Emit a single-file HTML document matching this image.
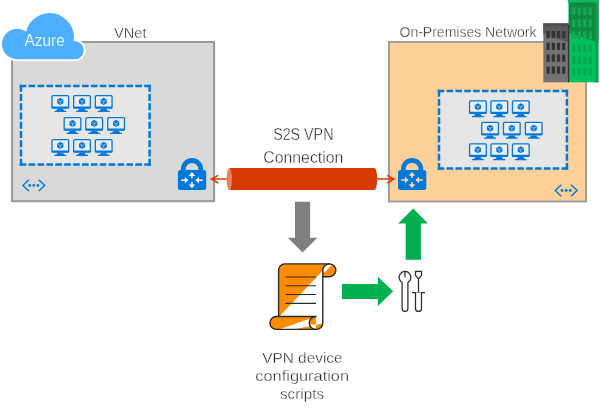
<!DOCTYPE html>
<html><head><meta charset="utf-8"><title>S2S VPN Connection</title>
<style>
html,body{margin:0;padding:0;background:#fff;}
body{width:600px;height:414px;overflow:hidden;}
svg{display:block;}
text{filter:url(#ga);font-family:"Liberation Sans",sans-serif;fill:#262626;stroke:#fff;stroke-width:0.36px;}
</style></head><body>
<svg width="600" height="414" viewBox="0 0 600 414">
<defs>
  <filter id="ga" x="-5%" y="-20%" width="110%" height="140%"><feOffset dx="0" dy="0"/></filter>
  <g id="mon">
    <rect x="0.35" y="0.65" width="16.7" height="12.5" rx="1" fill="#ececec" stroke="#0078d7" stroke-width="1.3"/>
    <rect x="0.35" y="11.5" width="16.7" height="1.7" fill="#0078d7"/>
    <path d="M6.3 13.7 L11.1 13.7 L12.9 15.8 L14.6 15.8 L14.6 17 L2.8 17 L2.8 15.8 L4.5 15.8 Z" fill="#0078d7"/>
    <path d="M8.70 2.85 L11.82 4.65 L11.82 8.25 L8.70 10.05 L5.58 8.25 L5.58 4.65 Z" fill="#0078d7"/>
    <path d="M8.7 9.24 L8.7 6.55 L6.44 5.25 M8.7 6.55 L10.96 5.25" stroke="#d6e8f8" stroke-width="0.65" fill="none"/>
  </g>
  <g id="mons">
    <use href="#mon" x="0" y="0"/><use href="#mon" x="21.7" y="0"/><use href="#mon" x="43.4" y="0"/>
    <use href="#mon" x="12.2" y="22"/><use href="#mon" x="33.9" y="22"/><use href="#mon" x="55.8" y="22"/>
    <use href="#mon" x="0" y="44"/><use href="#mon" x="21.7" y="44"/><use href="#mon" x="43.4" y="44"/>
  </g>
  <g id="mons2">
    <use href="#mon" x="0" y="0"/><use href="#mon" x="21.4" y="0"/><use href="#mon" x="42.9" y="0"/>
    <use href="#mon" x="12.2" y="21.5"/><use href="#mon" x="33.9" y="21.5"/><use href="#mon" x="55.8" y="21.5"/>
    <use href="#mon" x="0" y="43"/><use href="#mon" x="21.4" y="43"/><use href="#mon" x="42.9" y="43"/>
  </g>
  <g id="peer" fill="none" stroke="#0078d7" stroke-width="1.4">
    <path d="M6.4 -5.7 L0.4 0 L6.4 5.7"/><path d="M16.2 -5.7 L22.2 0 L16.2 5.7"/>
    <circle cx="7.2" cy="0" r="1.4" fill="#0078d7" stroke="none"/>
    <circle cx="11.3" cy="0" r="1.4" fill="#0078d7" stroke="none"/>
    <circle cx="15.4" cy="0" r="1.4" fill="#0078d7" stroke="none"/>
  </g>
  <g id="lock">
    <path d="M3 12.5 L3 11 A11.1 11.1 0 0 1 25.2 11 L25.2 12.5 L20.5 12.5 L20.5 11 A6.4 6.2 0 0 0 7.7 11 L7.7 12.5 Z" fill="#0078d7"/>
    <rect x="0" y="11.9" width="28.3" height="20" rx="2.5" fill="#0078d7"/>
  </g>
  <g id="lockarrows" stroke="none">
    <path d="M14 13.9 L17.4 17.7 L14.8 17.7 L14.8 20.1 L13.2 20.1 L13.2 17.7 L10.6 17.7 Z"/>
    <path d="M14 30.1 L17.4 26.3 L14.8 26.3 L14.8 23.9 L13.2 23.9 L13.2 26.3 L10.6 26.3 Z"/>
    <path d="M10.6 22 L6.9 18.8 L6.9 21.2 L3.2 21.2 L3.2 22.8 L6.9 22.8 L6.9 25.2 Z"/>
    <path d="M17.4 22 L21.1 18.8 L21.1 21.2 L24.8 21.2 L24.8 22.8 L21.1 22.8 L21.1 25.2 Z"/>
  </g>
</defs>

<!-- VNet box -->
<rect x="12.1" y="42" width="202" height="159.2" fill="#d9d9d9" stroke="#999" stroke-width="2"/>
<rect x="21" y="85.9" width="128.60" height="78.70" fill="#e6e6e6"/>
<path d="M19.75 85.9 H150.85 M150.85 164.6 H19.75" fill="none" stroke="#0078d7" stroke-width="2.5" stroke-dasharray="6.593 2.3"/>
<path d="M21 84.65 V165.85 M149.6 165.85 V84.65" fill="none" stroke="#0078d7" stroke-width="2.5" stroke-dasharray="6.978 2.3"/>
<use href="#mons" x="51.6" y="95"/>
<use href="#peer" x="22.5" y="185.4"/>
<use href="#lock" x="177.9" y="158.2"/>
<use href="#lockarrows" x="177.9" y="158.2" fill="#f4f4f4"/>

<!-- Cloud -->
<g>
  <path id="cl" d="M17.2 59.2 A15.2 15.2 0 1 1 26.02 31.62 A24.3 24.3 0 0 1 73.61 41.27 A9 9 0 1 1 74.7 59.2 Z" fill="#4dafff" stroke="#fff" stroke-width="4" paint-order="stroke"/>
  <text x="44.65" y="45.7" text-anchor="middle" font-size="16" textLength="40.3" lengthAdjust="spacingAndGlyphs" style="fill:#fff;stroke:#4dafff;stroke-width:0.2px">Azure</text>
</g>
<text x="114" y="37.6" font-size="14" textLength="32.5" lengthAdjust="spacingAndGlyphs">VNet</text>

<!-- On-prem box -->
<rect x="389" y="42" width="197" height="159.5" fill="#ffd199" stroke="#9e9e9e" stroke-width="2"/>
<rect x="439" y="91.1" width="127.90" height="77.50" fill="#e6e6e6"/>
<path d="M437.75 91.1 H568.15 M568.15 168.6 H437.75" fill="none" stroke="#0078d7" stroke-width="2.5" stroke-dasharray="6.547 2.3"/>
<path d="M439 89.85 V169.85 M566.9 169.85 V89.85" fill="none" stroke="#0078d7" stroke-width="2.5" stroke-dasharray="6.844 2.3"/>
<use href="#mons2" x="469.2" y="100.3"/>
<use href="#peer" x="554.9" y="190.5"/>
<use href="#lock" x="398" y="158"/>
<use href="#lockarrows" x="398" y="158" fill="#ffd9a6"/>
<text x="399.5" y="37.2" font-size="14" textLength="137" lengthAdjust="spacingAndGlyphs">On-Premises Network</text>

<!-- Buildings -->
<g>
  <rect x="543.3" y="23.5" width="25.4" height="58.8" fill="#737373"/>
  <path d="M543.3 23.5 L568.7 23.5 L568.7 42.4 L543.3 33.7 Z" fill="#595959"/>
  <rect x="543.3" y="23.5" width="25.4" height="2.3" fill="#4d4d4d"/>
  <g fill="#333">
    <rect x="546.5" y="31" width="3.2" height="7.2"/><rect x="551.7" y="31" width="3.2" height="7.2"/><rect x="556.9" y="31" width="3.2" height="7.2"/><rect x="562.1" y="31" width="3.2" height="7.2"/>
    <rect x="546.5" y="42.8" width="3.2" height="7.2"/><rect x="551.7" y="42.8" width="3.2" height="7.2"/><rect x="556.9" y="42.8" width="3.2" height="7.2"/><rect x="562.1" y="42.8" width="3.2" height="7.2"/>
    <rect x="546.5" y="54.5" width="3.2" height="7.2"/><rect x="551.7" y="54.5" width="3.2" height="7.2"/><rect x="556.9" y="54.5" width="3.2" height="7.2"/><rect x="562.1" y="54.5" width="3.2" height="7.2"/>
    <rect x="546.5" y="66.5" width="3.2" height="7.2"/><rect x="551.7" y="66.5" width="3.2" height="7.2"/><rect x="556.9" y="66.5" width="3.2" height="7.2"/><rect x="562.1" y="66.5" width="3.2" height="7.2"/>
  </g>
  <rect x="568.7" y="0" width="29.7" height="82.3" fill="#00c060"/>
  <rect x="595" y="0" width="3.4" height="82.3" fill="#00a550"/>
  <path d="M568.7 0 L595 0 L595 41.4 L568.7 32.5 Z" fill="#0e8a42"/>
  <path d="M595 0 L598.4 0 L598.4 42.5 L595 41.4 Z" fill="#12994b"/>
  <rect x="567.8" y="0" width="31" height="2.5" fill="#12b85a"/>
  <rect x="567.9" y="25" width="1.3" height="57.3" fill="#3a2d38"/>
  <g fill="#1aa657">
    <rect x="572.1" y="7.5" width="3.2" height="7.8"/><rect x="577.7" y="7.5" width="3.2" height="7.8"/><rect x="583.2" y="7.5" width="3.2" height="7.8"/><rect x="588.7" y="7.5" width="3.2" height="7.8"/>
    <rect x="572.1" y="19.4" width="3.2" height="7.8"/><rect x="577.7" y="19.4" width="3.2" height="7.8"/><rect x="583.2" y="19.4" width="3.2" height="7.8"/><rect x="588.7" y="19.4" width="3.2" height="7.8"/>
    <rect x="572.1" y="31.5" width="3.2" height="7.6"/><rect x="577.7" y="31.5" width="3.2" height="7.6"/><rect x="583.2" y="31.5" width="3.2" height="7.6"/><rect x="588.7" y="31.5" width="3.2" height="7.6"/>
    </g><g fill="#00a64e"><rect x="572.1" y="44.6" width="3.2" height="7.6"/><rect x="577.7" y="44.6" width="3.2" height="7.6"/><rect x="583.2" y="44.6" width="3.2" height="7.6"/><rect x="588.7" y="44.6" width="3.2" height="7.6"/>
    <rect x="572.1" y="56.5" width="3.2" height="7.6"/><rect x="577.7" y="56.5" width="3.2" height="7.6"/><rect x="583.2" y="56.5" width="3.2" height="7.6"/><rect x="588.7" y="56.5" width="3.2" height="7.6"/>
    <rect x="572.1" y="68.3" width="3.2" height="7"/><rect x="577.7" y="68.3" width="3.2" height="7"/><rect x="583.2" y="68.3" width="3.2" height="7"/><rect x="588.7" y="68.3" width="3.2" height="7"/>
  </g>
</g>

<!-- Pipe -->
<g>
  <path d="M229.3 168.1 L374.5 168.1 A2.7 11 0 0 1 374.5 190.1 L229.3 190.1 Z" fill="#d83b01"/>
  <ellipse cx="229.3" cy="179.1" rx="2.7" ry="11" fill="#e9805f"/>
  <g fill="none" stroke="#d83b01" stroke-width="1.5">
    <path d="M226.6 179.1 L211.6 179.1 M218.2 175.3 L211.4 179.1 L218.2 183"/>
    <path d="M377 179.1 L393.8 179.1 M387.2 175.3 L394 179.1 L387.2 183"/>
  </g>
</g>
<text x="303.3" y="139.8" text-anchor="middle" font-size="16" textLength="60.3" lengthAdjust="spacingAndGlyphs">S2S VPN</text>
<text x="303.3" y="162.75" text-anchor="middle" font-size="16" textLength="80" lengthAdjust="spacingAndGlyphs">Connection</text>

<!-- Gray arrow -->
<path d="M295 201.8 L310.1 201.8 L310.1 237.8 L317.3 237.8 L302.5 252.5 L287.8 237.8 L295 237.8 Z" fill="#7f7f7f"/>
<!-- Green arrows -->
<path d="M405.7 259.7 L405.7 223.6 L398.2 223.6 L413.2 208.6 L428 223.6 L420.9 223.6 L420.9 259.7 Z" fill="#00b050"/>
<path d="M341.9 284 L377.9 284 L377.9 276.7 L393.1 291.2 L377.9 305.9 L377.9 298.9 L341.9 298.9 Z" fill="#00b050"/>

<!-- Scroll -->
<g stroke="#2b2b2b" stroke-width="1.4" stroke-linejoin="round" stroke-linecap="round">
  <path d="M278.6 316.5 V270 A6.1 6.1 0 0 1 284.7 263.9 H329.4 A6.4 6.4 0 0 1 329.4 276.7 H322.8 V323 A6.4 6.4 0 0 1 316.4 329.4 H276.35 A6.45 6.45 0 0 1 276.35 316.5 Z" fill="#fff" stroke="none"/>
  <path d="M278.6 317.3 V270 A6.1 6.1 0 0 1 284.7 263.9 H329 Z" fill="#ff8c00" stroke="none"/>
  <path d="M329.4 263.9 A6.4 6.4 0 0 1 329.4 276.7 H322.8 V270.3 A6.6 6.4 0 0 1 329.4 263.9 Z" fill="#ff8c00" stroke="none"/>
  <path d="M322.8 270.3 A6.6 6.4 0 0 1 329.4 263.9 L332 264.5 L325.6 271.4 L322.8 273 Z" fill="#fff" stroke="none"/>
  <path d="M276.35 316.5 H315.7 L315.7 318 L309.6 318.8 L278.9 329.4 H276.35 A6.45 6.45 0 0 1 276.35 316.5 Z" fill="#ff8c00" stroke="none"/>
  <path d="M309.6 318.8 A6.45 6.45 0 0 1 315.7 316.5 L315.9 324.4 L309.4 324.4 Z" fill="#ff8c00" stroke="none"/>
  <path d="M293.3 329.4 L310.4 325.9 A6.45 6.45 0 0 0 315.7 329.4 Z" fill="#ff8c00" stroke="none"/>
  <path d="M315.9 325 L322.6 323.3 A6.4 6.4 0 0 1 316.4 329.4 H315.9 Z" fill="#ff8c00" stroke="none"/>
  <path d="M315.7 316.5 A6.45 6.45 0 0 0 315.7 329.4" fill="none"/>
  <path d="M322.8 276.7 V270.3 A6.6 6.4 0 0 1 329.4 263.9" fill="none"/>
  <path d="M315.7 316.5 H278.6 V270 A6.1 6.1 0 0 1 284.7 263.9 H329.4 A6.4 6.4 0 0 1 329.4 276.7 H322.8 V323 A6.4 6.4 0 0 1 316.4 329.4 H276.35 A6.45 6.45 0 0 1 276.35 316.5 H278.6" fill="none"/>
  <path d="M285.4 277 H316 M285.4 285.75 H316 M285.4 294.5 H316 M285.4 303.4 H316" fill="none" stroke-width="1.2" stroke-linecap="butt"/>
</g>

<!-- Tools -->
<g fill="#fff" stroke="#2b2b2b" stroke-width="1.25" stroke-linejoin="round">
  <path d="M402.1 282.5 A5.9 5.9 0 1 1 407.9 282.5 L407.9 308.4 A2.9 2.9 0 0 1 402.1 308.4 Z"/>
  <path d="M405 271.5 L405 277.2" fill="none"/>
  <path d="M415.5 271.4 L421.5 271.4 L421.5 275.3 L418.5 278.8 L415.5 275.3 Z"/>
  <path d="M418.5 278.8 L418.5 292.5 M412 292.5 L425 292.5" fill="none"/>
  <path d="M415.5 292.5 L415.5 308.4 A3 3 0 0 0 421.5 308.4 L421.5 292.5" />
</g>

<text x="302.4" y="363" text-anchor="middle" font-size="15.4" textLength="80.5" lengthAdjust="spacingAndGlyphs">VPN device</text>
<text x="302.2" y="381" text-anchor="middle" font-size="15.4" textLength="93.8" lengthAdjust="spacingAndGlyphs">configuration</text>
<text x="302" y="398.5" text-anchor="middle" font-size="15.4" textLength="44" lengthAdjust="spacingAndGlyphs">scripts</text>
</svg>
</body></html>
